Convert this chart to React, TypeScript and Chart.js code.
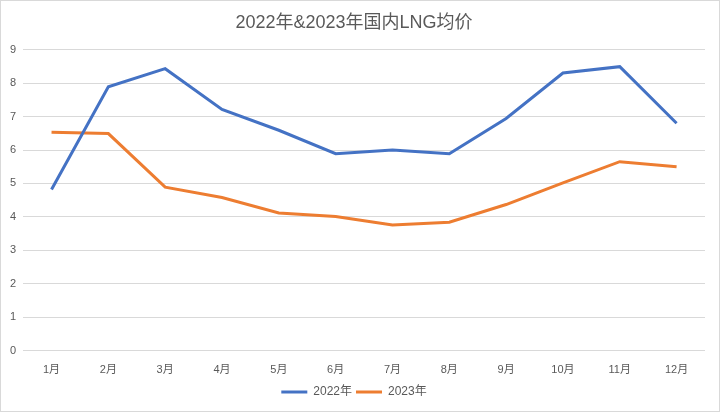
import { useEffect, useRef } from 'react'
import { Chart, registerables } from 'chart.js'

Chart.register(...registerables)

const months = ['1月', '2月', '3月', '4月', '5月', '6月', '7月', '8月', '9月', '10月', '11月', '12月']
const price2022 = [4.82, 7.89, 8.43, 7.21, 6.59, 5.89, 6.0, 5.89, 6.94, 8.3, 8.49, 6.8]
const price2023 = [6.53, 6.49, 4.89, 4.58, 4.12, 4.01, 3.76, 3.84, 4.37, 5.02, 5.65, 5.5]

const FONT = '"Liberation Sans", "Noto Sans CJK SC", sans-serif'
const GREY = '#595959'

export default function App() {
  const canvasRef = useRef<HTMLCanvasElement>(null)

  useEffect(() => {
    document.body.style.margin = '0'
    if (!canvasRef.current) return
    const chart = new Chart(canvasRef.current, {
      type: 'line',
      data: {
        labels: months,
        datasets: [
          {
            label: '2022年',
            data: price2022,
            borderColor: '#4472C4',
            backgroundColor: '#4472C4',
            borderWidth: 3,
            pointRadius: 0,
            pointStyle: 'line',
            tension: 0,
          },
          {
            label: '2023年',
            data: price2023,
            borderColor: '#ED7D31',
            backgroundColor: '#ED7D31',
            borderWidth: 3,
            pointRadius: 0,
            pointStyle: 'line',
            tension: 0,
          },
        ],
      },
      options: {
        responsive: true,
        maintainAspectRatio: false,
        animation: false,
        layout: { padding: { left: 2, right: 14, top: 4, bottom: 3 } },
        plugins: {
          title: {
            display: true,
            text: '2022年&2023年国内LNG均价',
            color: GREY,
            font: { family: FONT, size: 18, weight: 'normal' },
            padding: { top: 7, bottom: 16 },
          },
          legend: {
            position: 'bottom',
            labels: {
              usePointStyle: true,
              pointStyleWidth: 26,
              boxHeight: 12,
              padding: 4,
              color: GREY,
              font: { family: FONT, size: 12 },
            },
          },
          tooltip: { enabled: false },
        },
        scales: {
          x: {
            offset: true,
            grid: { display: false },
            border: { display: false },
            ticks: { color: GREY, font: { family: FONT, size: 11 }, padding: 5 },
          },
          y: {
            min: 0,
            max: 9,
            ticks: { stepSize: 1, color: GREY, font: { family: FONT, size: 11 }, padding: 7 },
            grid: { color: '#d9d9d9', lineWidth: 1, drawTicks: false },
            border: { display: false },
          },
        },
      },
    })
    return () => chart.destroy()
  }, [])

  return (
    <div style={{ width: 720, height: 412, boxSizing: 'border-box', border: '1px solid #d9d9d9', background: '#fff' }}>
      <canvas ref={canvasRef} />
    </div>
  )
}
